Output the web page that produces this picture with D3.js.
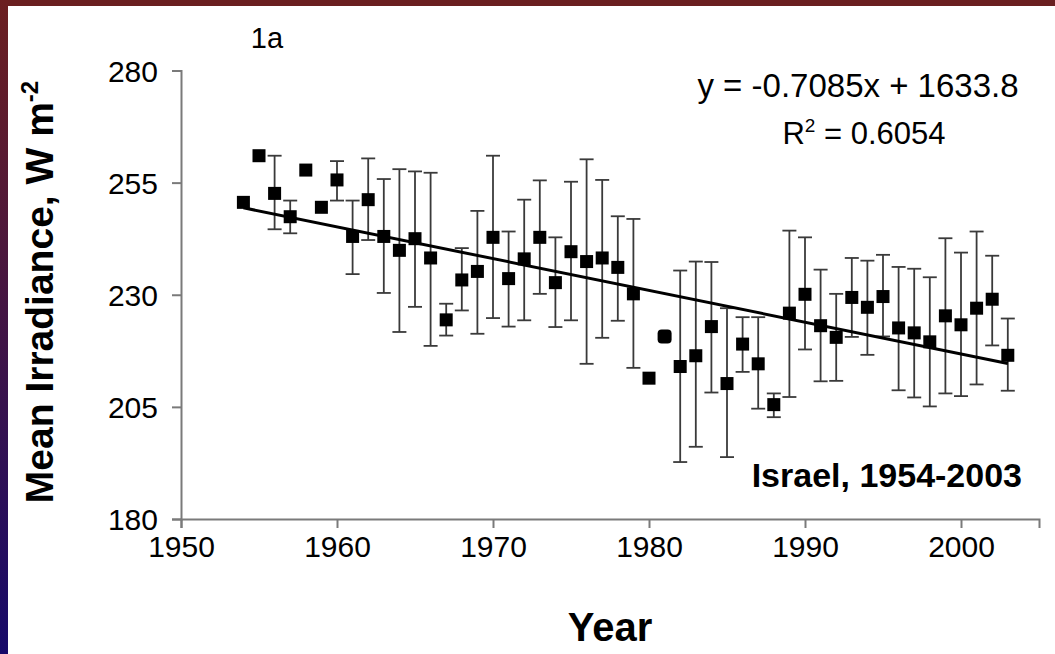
<!DOCTYPE html>
<html>
<head>
<meta charset="utf-8">
<script src="https://cdn.jsdelivr.net/npm/d3@7"></script>
<style>
  html, body { margin: 0; padding: 0; background: #fff; }
  svg { display: block; }
</style>
</head>
<body>
<svg id="chart" width="1055" height="654"></svg>
<script>
// Annual mean irradiance, Israel 1954-2003
const years = [1954,1955,1956,1957,1958,1959,1960,1961,1962,1963,
               1964,1965,1966,1967,1968,1969,1970,1971,1972,1973,
               1974,1975,1976,1977,1978,1979,1980,1981,1982,1983,
               1984,1985,1986,1987,1988,1989,1990,1991,1992,1993,
               1994,1995,1996,1997,1998,1999,2000,2001,2002,2003];
const irradiance = [250.6,261.0,252.6,247.4,257.8,249.5,255.6,243.0,251.2,243.0,
                    239.9,242.5,238.2,224.4,233.3,235.2,242.8,233.6,238.0,242.8,
                    232.7,239.6,237.4,238.2,236.1,230.2,211.4,220.7,214.0,216.4,
                    222.9,210.2,219.0,214.6,205.5,225.9,230.1,223.1,220.5,229.4,
                    227.2,229.6,222.6,221.5,219.5,225.3,223.3,227.0,229.0,216.5];
// upper / lower ends of the error bars (null = no bar)
const errHigh = [null,null,261.0,251.0,null,null,259.8,251.0,260.4,255.8,
                 258.0,257.5,257.2,228.0,240.4,248.7,261.0,244.1,251.2,255.5,
                 242.8,255.2,260.2,255.6,247.5,246.9,null,null,235.4,237.4,
                 237.3,227.0,225.0,225.0,208.0,244.3,242.8,235.6,230.2,238.2,
                 237.6,238.9,236.2,235.8,233.9,242.6,239.4,244.1,238.7,224.7];
const errLow  = [null,null,244.6,243.7,null,null,251.0,234.6,242.2,230.4,
                 221.7,227.3,218.6,220.9,226.5,221.3,224.8,222.9,224.3,230.2,
                 222.8,224.3,214.6,220.4,224.2,213.7,null,null,192.7,196.1,
                 208.2,193.8,212.8,204.6,202.7,207.2,217.8,210.7,210.8,220.6,
                 216.6,220.7,208.7,207.1,205.1,208.0,207.4,210.0,218.7,208.6];
// year plotted with the rounded marker
const roundedYears = [1981];

// linear trend
const trendSlope = -0.7085;
const trendIntercept = 1633.8;
const trendRange = [1954, 2003];
const rSquared = "0.6054";

const xTicks = [1950,1960,1970,1980,1990,2000];
const yTicks = [180,205,230,255,280];

const svg = d3.select("#chart");
const W = 1055, H = 654;

// page frame: dark red band on top, red-to-blue band on the left
const defs = svg.append("defs");
const grad = defs.append("linearGradient").attr("id","sideGrad")
  .attr("x1",0).attr("y1",0).attr("x2",0).attr("y2",1);
grad.append("stop").attr("offset","0%").attr("stop-color","#6c1f20");
grad.append("stop").attr("offset","100%").attr("stop-color","#170a6a");
svg.append("rect").attr("x",0).attr("y",0).attr("width",W).attr("height",H).attr("fill","#fff");
svg.append("rect").attr("x",0).attr("y",0).attr("width",W).attr("height",6).attr("fill","#6a1f20");
svg.append("rect").attr("x",0).attr("y",0).attr("width",8).attr("height",H).attr("fill","url(#sideGrad)");

const x = d3.scaleLinear().domain([1950, 2005]).range([181, 1039]);
const y = d3.scaleLinear().domain([180, 280]).range([519, 70.5]);

const font = "'Liberation Sans', Arial, Helvetica, sans-serif";

// axes
const xAxis = svg.append("g").attr("transform", `translate(0,${y(180)})`)
  .call(d3.axisBottom(x).tickValues(xTicks).tickFormat(d3.format("d")).tickSize(9).tickPadding(12));
const yAxis = svg.append("g").attr("transform", `translate(${x(1950)},0)`)
  .call(d3.axisLeft(y).tickValues(yTicks).tickSize(9).tickPadding(14));
[xAxis, yAxis].forEach(g => {
  g.select(".domain").attr("stroke","#7a7a7a").attr("stroke-width",2);
  g.selectAll(".tick line").attr("stroke","#7a7a7a").attr("stroke-width",2);
  g.selectAll(".tick text").attr("fill","#000").style("font-family",font).style("font-size","30px");
});
xAxis.selectAll(".tick text").attr("y",38).attr("dy",0);
yAxis.selectAll(".tick text").attr("dy","0.36em");

// data rows
const rows = years.map((yr,i) => ({year: yr, v: irradiance[i], hi: errHigh[i], lo: errLow[i]}));

// error bars
const eb = svg.append("g").attr("stroke","#3a3a3a").attr("stroke-width",1.8);
rows.filter(d => d.hi !== null).forEach(d => {
  const cx = x(d.year);
  eb.append("line").attr("x1",cx).attr("x2",cx).attr("y1",y(d.hi)).attr("y2",y(d.lo));
  eb.append("line").attr("x1",cx-7).attr("x2",cx+7).attr("y1",y(d.hi)).attr("y2",y(d.hi));
  eb.append("line").attr("x1",cx-7).attr("x2",cx+7).attr("y1",y(d.lo)).attr("y2",y(d.lo));
});

// trend line
svg.append("line")
  .attr("x1", x(trendRange[0])).attr("y1", y(trendSlope*trendRange[0] + trendIntercept))
  .attr("x2", x(trendRange[1])).attr("y2", y(trendSlope*trendRange[1] + trendIntercept))
  .attr("stroke","#000").attr("stroke-width",3);

// markers
svg.append("g").selectAll("rect").data(rows).join("rect")
  .each(function(d) {
    const s = roundedYears.includes(d.year) ? 14 : 13;
    d3.select(this)
      .attr("x", x(d.year) - s/2).attr("y", y(d.v) - s/2)
      .attr("width", s).attr("height", s)
      .attr("rx", roundedYears.includes(d.year) ? 4 : 0);
  })
  .attr("fill","#000");

// text
svg.append("text").attr("x",267).attr("y",48).attr("text-anchor","middle")
  .style("font-family",font).style("font-size","29px").text("1a");

const eq = svg.append("g").style("font-family",font).attr("fill","#000");
eq.append("text").attr("x",858).attr("y",97).attr("text-anchor","middle").style("font-size","33px")
  .text(`y = ${trendSlope}x + ${trendIntercept}`);
const r2 = eq.append("text").attr("x",864).attr("y",144).attr("text-anchor","middle").style("font-size","31px");
r2.append("tspan").text("R");
r2.append("tspan").attr("dy",-12).style("font-size","19px").text("2");
r2.append("tspan").attr("dy",12).text(` = ${rSquared}`);

svg.append("text").attr("x",1022).attr("y",487).attr("text-anchor","end")
  .style("font-family",font).style("font-size","34px").style("font-weight","bold")
  .text("Israel, 1954-2003");

svg.append("text").attr("x",610).attr("y",641).attr("text-anchor","middle")
  .style("font-family",font).style("font-size","40px").style("font-weight","bold")
  .text("Year");

const yt = svg.append("text").attr("transform","translate(53,292) rotate(-90)")
  .attr("text-anchor","middle")
  .style("font-family",font).style("font-size","39px").style("font-weight","bold");
yt.append("tspan").text("Mean Irradiance, W m");
yt.append("tspan").attr("dy",-15).style("font-size","24px").text("-2");
</script>
</body>
</html>
